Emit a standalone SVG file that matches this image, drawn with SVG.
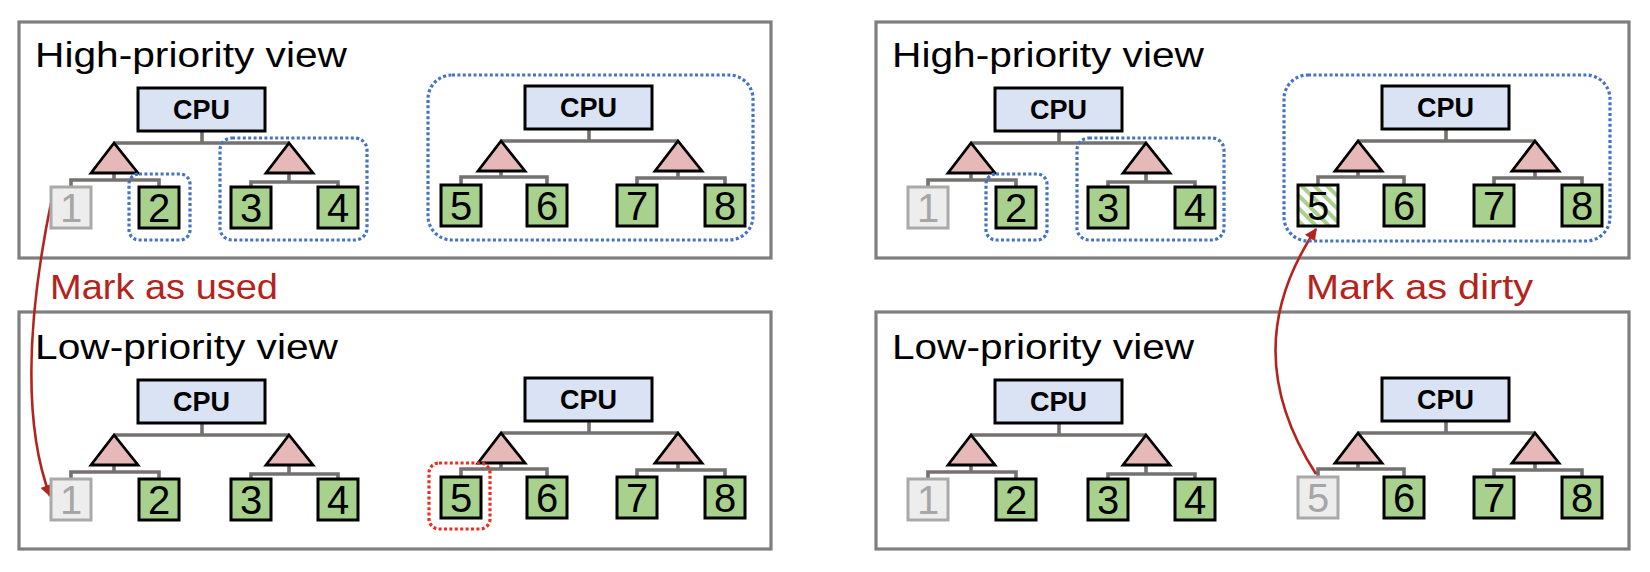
<svg xmlns="http://www.w3.org/2000/svg" width="1650" height="572" viewBox="0 0 1650 572">
<style>
.panel{fill:#fff;stroke:#7f7f7f;stroke-width:3.2}
.title{font-family:"Liberation Sans",Arial,sans-serif;font-size:35px;fill:#000}
.lbl{font-family:"Liberation Sans",Arial,sans-serif;font-size:35px;fill:#b4231c}
.cpu rect{fill:#dae3f3;stroke:#000;stroke-width:3}
.cpu text{font-family:"Liberation Sans",Arial,sans-serif;font-size:27px;font-weight:bold;text-anchor:middle;fill:#000}
.sw polygon{fill:#e6b9b8;stroke:#000;stroke-width:2.8;stroke-linejoin:miter}
.g rect{fill:#a9d18e;stroke:#000;stroke-width:3}
.u rect{fill:#ededed;stroke:#a9a9a9;stroke-width:3}
.h rect{fill:url(#hatch);stroke:#000;stroke-width:3}
.g text,.h text,.u text{font-family:"Liberation Sans",Arial,sans-serif;font-size:40px;text-anchor:middle;fill:#000}
.u text{fill:#a6a6a6}
.wire{fill:none;stroke:#767171;stroke-width:3.6}
.grp{fill:none;stroke:#4472c4;stroke-width:3.2;stroke-dasharray:3 2.4}
.sel{fill:none;stroke:#ee2c22;stroke-width:3.2;stroke-dasharray:3 2.4}
.arr{fill:none;stroke:#b4231c;stroke-width:2.6;marker-end:url(#ah)}
</style>
<defs>
<pattern id="hatch" width="9" height="9" patternUnits="userSpaceOnUse" patternTransform="rotate(-45)">
<rect width="9" height="9" fill="#fff"/>
<rect width="4" height="9" fill="#a9d18e"/>
</pattern>
<marker id="ah" viewBox="0 0 10 10" refX="9" refY="5" markerWidth="13" markerHeight="12" markerUnits="userSpaceOnUse" orient="auto">
<path d="M0,0 L10,5 L0,10 z" fill="#b4231c"/>
</marker>
</defs>

<!-- panels -->
<g id="panel-tl"><rect class="panel" x="19" y="22" width="752" height="236"/><text class="title" x="35" y="67" textLength="312" lengthAdjust="spacingAndGlyphs">High-priority view</text></g>
<g id="panel-bl"><rect class="panel" x="19" y="312" width="752" height="237"/><text class="title" x="35" y="359" textLength="303" lengthAdjust="spacingAndGlyphs">Low-priority view</text></g>
<g id="panel-tr"><rect class="panel" x="876" y="22" width="753" height="236"/><text class="title" x="892" y="67" textLength="312" lengthAdjust="spacingAndGlyphs">High-priority view</text></g>
<g id="panel-br"><rect class="panel" x="876" y="312" width="753" height="237"/><text class="title" x="892" y="359" textLength="302" lengthAdjust="spacingAndGlyphs">Low-priority view</text></g>

<!-- connectors -->
<g id="connectors">
<path class="wire" transform="translate(138,88)" d="M64 43V55 M-24 55H151 M-24 85V92 M-67 99V92H21V99 M151 85V94 M113 99V94H200V99"/>
<path class="wire" transform="translate(525,86)" d="M64 43V55 M-24 55H153 M-24 85V91 M-64 99V91H22V99 M153 85V92 M112 99V92H200V99"/>
<path class="wire" transform="translate(138,380)" d="M64 43V55 M-24 55H151 M-24 85V92 M-67 99V92H21V99 M151 85V94 M113 99V94H200V99"/>
<path class="wire" transform="translate(525,378)" d="M64 43V55 M-24 55H153 M-24 85V91 M-64 99V91H22V99 M153 85V92 M112 99V92H200V99"/>
<path class="wire" transform="translate(995,88)" d="M64 43V55 M-24 55H151 M-24 85V92 M-67 99V92H21V99 M151 85V94 M113 99V94H200V99"/>
<path class="wire" transform="translate(1382,86)" d="M64 43V55 M-24 55H153 M-24 85V91 M-64 99V91H22V99 M153 85V92 M112 99V92H200V99"/>
<path class="wire" transform="translate(995,380)" d="M64 43V55 M-24 55H151 M-24 85V92 M-67 99V92H21V99 M151 85V94 M113 99V94H200V99"/>
<path class="wire" transform="translate(1382,378)" d="M64 43V55 M-24 55H153 M-24 85V91 M-64 99V91H22V99 M153 85V92 M112 99V92H200V99"/>
<path id="arrow-used" class="arr" d="M51 203 C25 330 25 430 50 496"/>
<path id="arrow-dirty" class="arr" d="M1316 474 C1262 390 1262 310 1316 229"/>
</g>

<!-- tree TL1 -->
<g id="tl1-cpu" class="cpu" transform="translate(138,88)"><rect width="127" height="43"/><text x="63.5" y="31">CPU</text></g>
<g id="tl1-swl" class="sw" transform="translate(138,88)"><polygon points="-24,55 -47,85 0,85"/></g>
<g id="tl1-swr" class="sw" transform="translate(138,88)"><polygon points="151,55 128,85 175,85"/></g>
<g id="tl1-n1" class="u" transform="translate(51,187)"><rect width="40" height="41"/><text x="20" y="35">1</text></g>
<g id="tl1-n2" class="g" transform="translate(139,187)"><rect width="40" height="41"/><text x="20" y="35">2</text></g>
<g id="tl1-n3" class="g" transform="translate(231,187)"><rect width="40" height="41"/><text x="20" y="35">3</text></g>
<g id="tl1-n4" class="g" transform="translate(318,187)"><rect width="40" height="41"/><text x="20" y="35">4</text></g>

<!-- tree TL2 -->
<g id="tl2-cpu" class="cpu" transform="translate(525,86)"><rect width="127" height="43"/><text x="63.5" y="31">CPU</text></g>
<g id="tl2-swl" class="sw" transform="translate(525,86)"><polygon points="-24,55 -47,85 0,85"/></g>
<g id="tl2-swr" class="sw" transform="translate(525,86)"><polygon points="153,55 130,85 177,85"/></g>
<g id="tl2-n5" class="g" transform="translate(441,185)"><rect width="40" height="41"/><text x="20" y="35">5</text></g>
<g id="tl2-n6" class="g" transform="translate(527,185)"><rect width="40" height="41"/><text x="20" y="35">6</text></g>
<g id="tl2-n7" class="g" transform="translate(617,185)"><rect width="40" height="41"/><text x="20" y="35">7</text></g>
<g id="tl2-n8" class="g" transform="translate(705,185)"><rect width="40" height="41"/><text x="20" y="35">8</text></g>

<!-- tree BL1 -->
<g id="bl1-cpu" class="cpu" transform="translate(138,380)"><rect width="127" height="43"/><text x="63.5" y="31">CPU</text></g>
<g id="bl1-swl" class="sw" transform="translate(138,380)"><polygon points="-24,55 -47,85 0,85"/></g>
<g id="bl1-swr" class="sw" transform="translate(138,380)"><polygon points="151,55 128,85 175,85"/></g>
<g id="bl1-n1" class="u" transform="translate(51,479)"><rect width="40" height="41"/><text x="20" y="35">1</text></g>
<g id="bl1-n2" class="g" transform="translate(139,479)"><rect width="40" height="41"/><text x="20" y="35">2</text></g>
<g id="bl1-n3" class="g" transform="translate(231,479)"><rect width="40" height="41"/><text x="20" y="35">3</text></g>
<g id="bl1-n4" class="g" transform="translate(318,479)"><rect width="40" height="41"/><text x="20" y="35">4</text></g>

<!-- tree BL2 -->
<g id="bl2-cpu" class="cpu" transform="translate(525,378)"><rect width="127" height="43"/><text x="63.5" y="31">CPU</text></g>
<g id="bl2-swl" class="sw" transform="translate(525,378)"><polygon points="-24,55 -47,85 0,85"/></g>
<g id="bl2-swr" class="sw" transform="translate(525,378)"><polygon points="153,55 130,85 177,85"/></g>
<g id="bl2-n5" class="g" transform="translate(441,477)"><rect width="40" height="41"/><text x="20" y="35">5</text></g>
<g id="bl2-n6" class="g" transform="translate(527,477)"><rect width="40" height="41"/><text x="20" y="35">6</text></g>
<g id="bl2-n7" class="g" transform="translate(617,477)"><rect width="40" height="41"/><text x="20" y="35">7</text></g>
<g id="bl2-n8" class="g" transform="translate(705,477)"><rect width="40" height="41"/><text x="20" y="35">8</text></g>

<!-- tree TR1 -->
<g id="tr1-cpu" class="cpu" transform="translate(995,88)"><rect width="127" height="43"/><text x="63.5" y="31">CPU</text></g>
<g id="tr1-swl" class="sw" transform="translate(995,88)"><polygon points="-24,55 -47,85 0,85"/></g>
<g id="tr1-swr" class="sw" transform="translate(995,88)"><polygon points="151,55 128,85 175,85"/></g>
<g id="tr1-n1" class="u" transform="translate(908,187)"><rect width="40" height="41"/><text x="20" y="35">1</text></g>
<g id="tr1-n2" class="g" transform="translate(996,187)"><rect width="40" height="41"/><text x="20" y="35">2</text></g>
<g id="tr1-n3" class="g" transform="translate(1088,187)"><rect width="40" height="41"/><text x="20" y="35">3</text></g>
<g id="tr1-n4" class="g" transform="translate(1175,187)"><rect width="40" height="41"/><text x="20" y="35">4</text></g>

<!-- tree TR2 -->
<g id="tr2-cpu" class="cpu" transform="translate(1382,86)"><rect width="127" height="43"/><text x="63.5" y="31">CPU</text></g>
<g id="tr2-swl" class="sw" transform="translate(1382,86)"><polygon points="-24,55 -47,85 0,85"/></g>
<g id="tr2-swr" class="sw" transform="translate(1382,86)"><polygon points="153,55 130,85 177,85"/></g>
<g id="tr2-n5" class="h" transform="translate(1298,185)"><rect width="40" height="41"/><text x="20" y="35">5</text></g>
<g id="tr2-n6" class="g" transform="translate(1384,185)"><rect width="40" height="41"/><text x="20" y="35">6</text></g>
<g id="tr2-n7" class="g" transform="translate(1474,185)"><rect width="40" height="41"/><text x="20" y="35">7</text></g>
<g id="tr2-n8" class="g" transform="translate(1562,185)"><rect width="40" height="41"/><text x="20" y="35">8</text></g>

<!-- tree BR1 -->
<g id="br1-cpu" class="cpu" transform="translate(995,380)"><rect width="127" height="43"/><text x="63.5" y="31">CPU</text></g>
<g id="br1-swl" class="sw" transform="translate(995,380)"><polygon points="-24,55 -47,85 0,85"/></g>
<g id="br1-swr" class="sw" transform="translate(995,380)"><polygon points="151,55 128,85 175,85"/></g>
<g id="br1-n1" class="u" transform="translate(908,479)"><rect width="40" height="41"/><text x="20" y="35">1</text></g>
<g id="br1-n2" class="g" transform="translate(996,479)"><rect width="40" height="41"/><text x="20" y="35">2</text></g>
<g id="br1-n3" class="g" transform="translate(1088,479)"><rect width="40" height="41"/><text x="20" y="35">3</text></g>
<g id="br1-n4" class="g" transform="translate(1175,479)"><rect width="40" height="41"/><text x="20" y="35">4</text></g>

<!-- tree BR2 -->
<g id="br2-cpu" class="cpu" transform="translate(1382,378)"><rect width="127" height="43"/><text x="63.5" y="31">CPU</text></g>
<g id="br2-swl" class="sw" transform="translate(1382,378)"><polygon points="-24,55 -47,85 0,85"/></g>
<g id="br2-swr" class="sw" transform="translate(1382,378)"><polygon points="153,55 130,85 177,85"/></g>
<g id="br2-n5" class="u" transform="translate(1298,477)"><rect width="40" height="41"/><text x="20" y="35">5</text></g>
<g id="br2-n6" class="g" transform="translate(1384,477)"><rect width="40" height="41"/><text x="20" y="35">6</text></g>
<g id="br2-n7" class="g" transform="translate(1474,477)"><rect width="40" height="41"/><text x="20" y="35">7</text></g>
<g id="br2-n8" class="g" transform="translate(1562,477)"><rect width="40" height="41"/><text x="20" y="35">8</text></g>

<!-- dotted groupings -->
<g id="groups">
<rect class="grp" x="129" y="174" width="61" height="66" rx="10"/>
<rect class="grp" x="220" y="138" width="147" height="102" rx="12"/>
<rect class="grp" x="428" y="75" width="325" height="165" rx="24"/>
<rect class="grp" x="986" y="174" width="61" height="66" rx="10"/>
<rect class="grp" x="1077" y="138" width="147" height="102" rx="12"/>
<rect class="grp" x="1284" y="75" width="326" height="166" rx="24"/>
<rect class="sel" x="429" y="463" width="61" height="66" rx="10"/>
</g>

<!-- labels -->
<g id="label-used"><text class="lbl" x="50" y="299" textLength="228" lengthAdjust="spacingAndGlyphs">Mark as used</text></g>
<g id="label-dirty"><text class="lbl" x="1306" y="299" textLength="227" lengthAdjust="spacingAndGlyphs">Mark as dirty</text></g>
</svg>
